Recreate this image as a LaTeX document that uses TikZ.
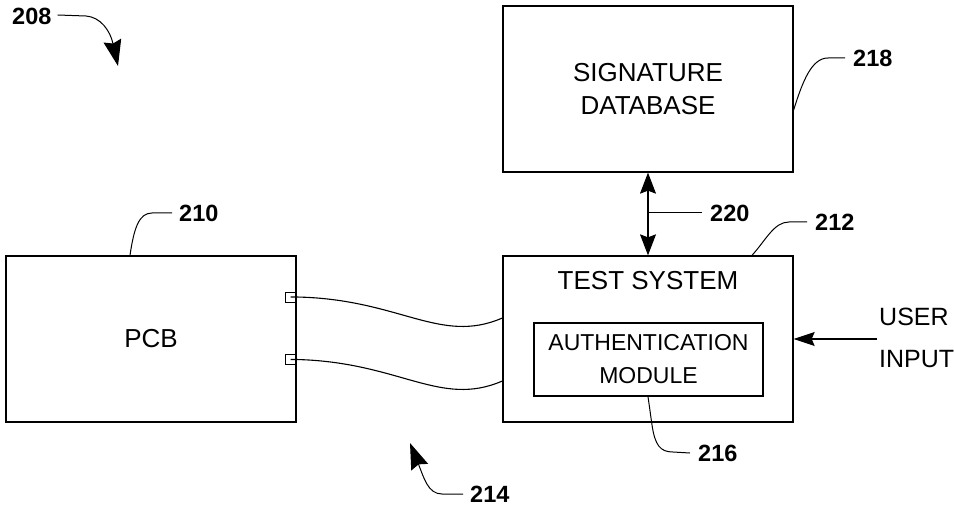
\documentclass[tikz,border=0pt]{standalone}
\usepackage{fontspec}
\setmainfont{Liberation Sans}
\usetikzlibrary{arrows.meta}
\begin{document}
\begin{tikzpicture}[x=1pt,y=-1pt,
  box/.style={draw, line width=1.3pt, minimum width=290pt, minimum height=166pt, inner sep=0pt},
  subbox/.style={draw, line width=1.1pt, minimum width=229pt, minimum height=73pt, inner sep=0pt,
    align=center, font=\fontsize{23}{33}\selectfont},
  pin/.style={draw, line width=1pt, minimum width=11pt, minimum height=10pt, inner sep=0pt},
  txt/.style={font=\fontsize{26}{33}\selectfont, align=center, inner sep=0pt},
  ref/.style={font=\bfseries\fontsize{23.5}{26}\selectfont, inner sep=0pt, anchor=west},
  lead/.style={line width=1pt},
  wire/.style={line width=1.1pt},
  bigtip/.style={-{Stealth[length=26pt,width=18pt,inset=3pt]}, line width=1pt},
  tip/.style={-{Stealth[length=21pt,width=14pt,inset=3pt]}, line width=1.1pt},
  dtip/.style={{Stealth[length=21pt,width=16pt,inset=3pt]}-{Stealth[length=21pt,width=16pt,inset=3pt]}, line width=1.1pt}
]
\useasboundingbox (0,0) rectangle (954,508);

% main blocks
\node[box, txt] (sig) at (648,89) {SIGNATURE\\DATABASE};
\node[box] (ts) at (648,339) {};
\node[txt] (tstitle) at (648,281) {TEST SYSTEM};
\node[subbox] (auth) at (648.5,359.5) {AUTHENTICATION\\MODULE};
\node[box, txt] (pcb) at (151,339) {PCB};

% connector pins on the board edge
\node[pin] (p1) at (290.5,297) {};
\node[pin] (p2) at (290.5,359.5) {};

% cable ends on the tester
\coordinate (w1) at (ts.west |- 0,318);
\coordinate (w2) at (ts.west |- 0,381);

\draw[wire] (p1.center) -- (p1.east) .. controls (400,299) and (440,345) .. (w1);
\draw[wire] (p2.center) -- (p2.east) .. controls (400,362) and (440,408) .. (w2);

% database link
\draw[dtip] (sig.south) -- (ts.north);
\coordinate (l220) at (648,213);

% user input
\coordinate (ui) at (877,339);
\draw[tip] (ui) -- (ts.east);
\node[font=\fontsize{25}{42}\selectfont, align=left, anchor=west, inner sep=0pt] (uitxt) at (879,338) {USER\\INPUT};

% reference numerals
\node[ref] (r208) at (12,16) {208};
\node[ref] (r218) at (853,58) {218};
\node[ref] (r210) at (179,213) {210};
\node[ref] (r212) at (815,222) {212};
\node[ref] (r220) at (710,213) {220};
\node[ref] (r216) at (698,453) {216};
\node[ref] (r214) at (470,494) {214};

% leader lines
\draw[lead] (r218.west) ++(-8,0) coordinate (c218) -- (828,58) .. controls (812,58) and (803,80) .. (sig.east |- 0,110);
\draw[lead] (r210.west) ++(-7,0) -- (152,213) .. controls (139,213) and (134,228) .. (pcb.north -| 130,0);
\draw[lead] (r212.west) ++(-8,0) -- (789,222) .. controls (774,222) and (766,240) .. (ts.north -| 752,0);
\draw[lead] (r220.west) ++(-8,0) -- (l220);
\draw[lead] (r216.west) ++(-8,0) -- (673,452) .. controls (660,452) and (655,445) .. (652,425) -- (auth.south -| 648,0);

% figure pointers
\draw[bigtip] (r208.east) ++(6,-1) -- (86,16) .. controls (100,17) and (110,30) .. (118,66);
\draw[bigtip] (r214.west) ++(-7,0) -- (442,494) .. controls (428,494) and (424,478) .. (410,443);
\end{tikzpicture}
\end{document}
